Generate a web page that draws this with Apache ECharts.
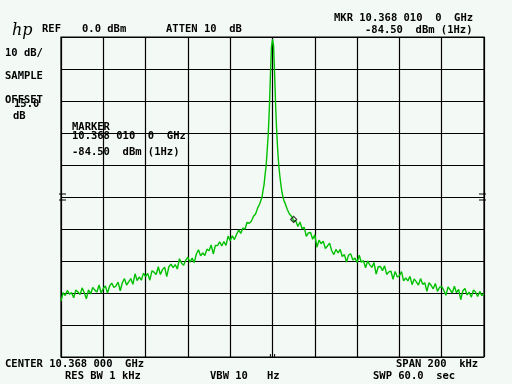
<!DOCTYPE html>
<html><head><meta charset="utf-8">
<script src="https://cdn.jsdelivr.net/npm/echarts@6/dist/echarts.min.js"></script>
<style>html,body{margin:0;padding:0;background:#f3f9f5}#c{width:512px;height:384px}</style>
</head><body><div id="c"></div>
<script>
// Frequency offsets from center (kHz) and trace levels (dBm)
var freqKHz = [
-100,-99,-98,-97,-96,-95,-94,-93,-92,-91,-90,-89,-88,-87,-86,-85,-84,-83,-82,-81,
-80,-79,-78,-77,-76,-75,-74,-73,-72,-71,-70,-69,-68,-67,-66,-65,-64,-63,-62,-61,
-60,-59,-58,-57,-56,-55,-54,-53,-52,-51,-50,-49,-48,-47,-46,-45,-44,-43,-42,-41,
-40,-39,-38,-37,-36,-35,-34,-33,-32,-31,-30,-29,-28,-27,-26,-25,-24,-23,-22,-21,
-20,-19,-18,-17,-16,-15,-14,-13,-12,-11,-10,-9,-8,-7,-6,-5.5,-5,-4.5,-4,-3.5,
-3,-2.5,-2,-1.5,-1,-0.5,0,0.5,1,1.5,2,2.5,3,3.5,4,4.5,5,5.5,6,7,8,9,10,
11,12,13,14,15,16,17,18,19,20,21,22,23,24,25,26,27,28,29,30,
31,32,33,34,35,36,37,38,39,40,41,42,43,44,45,46,47,48,49,50,
51,52,53,54,55,56,57,58,59,60,61,62,63,64,65,66,67,68,69,70,
71,72,73,74,75,76,77,78,79,80,81,82,83,84,85,86,87,88,89,90,
91,92,93,94,95,96,97,98,99,100];
var levelDbm = [
-82.5,-79.9,-80.8,-79.2,-80.4,-79.9,-81.5,-79.1,-79.7,-80.5,-78.4,-79.9,-81.8,-79.0,-80.3,-78.3,-79.1,-79.7,-77.5,-80.0,
-78.6,-77.8,-80.0,-77.8,-76.9,-78.3,-77.8,-76.6,-79.3,-76.8,-75.5,-77.5,-76.5,-75.5,-77.3,-74.0,-76.1,-75.0,-76.0,-73.8,
-74.9,-73.9,-76.0,-73.1,-73.5,-74.2,-71.8,-74.2,-72.7,-71.9,-74.9,-71.8,-71.0,-72.1,-71.1,-72.5,-69.3,-70.7,-71.3,-69.7,
-68.8,-70.4,-69.1,-70.5,-67.8,-66.5,-68.4,-67.5,-68.3,-66.3,-66.8,-65.0,-67.8,-65.1,-65.2,-64.0,-65.3,-63.9,-65.1,-62.2,
-63.7,-62.1,-63.3,-61.7,-60.3,-61.4,-59.7,-60.0,-57.9,-58.2,-57.6,-56.0,-55.3,-53.4,-52.1,-51.0,-50.2,-48.0,-46.2,-43.0,
-40.2,-35.3,-30.2,-22.6,-12.3,-3.2,-0.7,-2.6,-11.6,-21.8,-29.6,-35.8,-40.4,-43.6,-46.3,-48.6,-50.1,-51.3,-52.0,-53.9,-55.3,-56.0,-57.4,
-57.4,-59.2,-57.8,-59.9,-59.5,-62.3,-61.2,-61.1,-63.2,-61.8,-65.7,-63.5,-64.6,-63.8,-66.1,-65.3,-64.4,-66.8,-68.0,-66.4,
-67.5,-66.4,-68.6,-68.0,-70.3,-68.1,-67.8,-69.7,-69.1,-70.5,-68.2,-70.4,-69.9,-72.1,-70.0,-71.2,-72.0,-70.5,-74.1,-71.8,
-71.7,-73.0,-71.5,-74.2,-73.4,-73.2,-75.7,-73.3,-75.0,-74.6,-73.3,-76.2,-75.3,-76.2,-74.8,-77.4,-75.6,-76.5,-77.5,-75.5,
-77.3,-76.8,-79.5,-76.8,-77.6,-78.7,-77.0,-79.5,-78.2,-78.0,-79.2,-80.7,-78.1,-79.0,-80.0,-77.9,-79.9,-78.9,-82.1,-79.3,
-78.6,-80.6,-79.7,-81.3,-79.1,-79.7,-81.1,-79.5,-80.8,-80.2];
// Marker position (kHz offset, dBm)
var markerKHz = [10];
var markerDbm = [-57.0];
// Display-line level marks and bottom ticks
var displayLineDbm = -50;
var edgeKHz = [-100, 100];
var bottomTickKHz = [-1, 1];

var texts = [
  ['REF', 42, 26], ['0.0 dBm', 82, 26], ['ATTEN 10  dB', 166, 26],
  ['MKR 10.368 010  0  GHz', 334, 15], ['-84.50  dBm (1Hz)', 365, 27],
  ['10 dB/', 5, 50], ['SAMPLE', 5, 73], ['OFFSET', 5, 97], ['15.0', 14, 101], ['dB', 13, 113],
  ['MARKER', 72, 124], ['10.368 010  0  GHz', 72, 133], ['-84.50  dBm (1Hz)', 72, 149],
  ['CENTER 10.368 000  GHz', 5, 361], ['RES BW 1 kHz', 65, 373], ['VBW 10', 210, 373], ['Hz', 267, 373],
  ['SPAN 200  kHz', 396, 361], ['SWP 60.0  sec', 373, 373]
];

var trace = freqKHz.map(function (f, i) { return [f, levelDbm[i]]; });
var markers = markerKHz.map(function (f, i) { return [f, markerDbm[i]]; });

var chart = echarts.init(document.getElementById('c'), null, {renderer: 'canvas'});
var graphics = texts.map(function (t) {
  return {type: 'text', x: t[1], y: t[2] - 2, z: 100,
    style: {text: t[0], font: 'bold 10.5px "DejaVu Sans Mono"', fill: '#000', verticalAlign: 'top'}};
});
graphics.push({type: 'text', x: 12, y: 23, z: 100,
  style: {text: 'hp', font: 'italic 16px "DejaVu Serif"', fill: '#000', verticalAlign: 'top'}});

chart.setOption({
  animation: false,
  backgroundColor: '#f3f9f5',
  grid: {left: 61, top: 37, width: 423, height: 320, show: true, borderColor: '#000', borderWidth: 1.2},
  xAxis: {type: 'value', min: -100, max: 100, interval: 20,
    axisLine: {show: false}, axisTick: {show: false}, axisLabel: {show: false},
    splitLine: {show: true, lineStyle: {color: '#000', width: 1.2}}},
  yAxis: {type: 'value', min: -100, max: 0, interval: 10,
    axisLine: {show: false}, axisTick: {show: false}, axisLabel: {show: false},
    splitLine: {show: true, lineStyle: {color: '#000', width: 1.2}}},
  graphic: graphics,
  series: [
    {type: 'line', data: trace, symbol: 'none', lineStyle: {color: '#00c000', width: 1.4}, z: 5},
    {type: 'scatter', data: markers, symbol: 'diamond', symbolSize: 6,
      itemStyle: {color: 'rgba(0,0,0,0)', borderColor: '#000', borderWidth: 1.2}, z: 6},
    {type: 'custom', data: edgeKHz.map(function (f) { return [f, displayLineDbm]; }), z: 7,
      renderItem: function (params, api) {
        var p = api.coord([api.value(0), api.value(1)]);
        var left = api.value(0) < 0;
        var x1 = left ? p[0] - 2 : p[0] - 5, x2 = left ? p[0] + 5 : p[0] + 2;
        return {type: 'group', children: [
          {type: 'line', shape: {x1: x1, y1: p[1] - 3, x2: x2, y2: p[1] - 3}, style: {stroke: '#000', lineWidth: 1}},
          {type: 'line', shape: {x1: x1, y1: p[1] + 3, x2: x2, y2: p[1] + 3}, style: {stroke: '#000', lineWidth: 1}}
        ]};
      }},
    {type: 'custom', data: bottomTickKHz.map(function (f) { return [f, -100]; }), z: 7,
      renderItem: function (params, api) {
        var p = api.coord([api.value(0), api.value(1)]);
        return {type: 'line', shape: {x1: p[0], y1: p[1], x2: p[0], y2: p[1] - 3}, style: {stroke: '#000', lineWidth: 1}};
      }}
  ]
});
</script></body></html>
